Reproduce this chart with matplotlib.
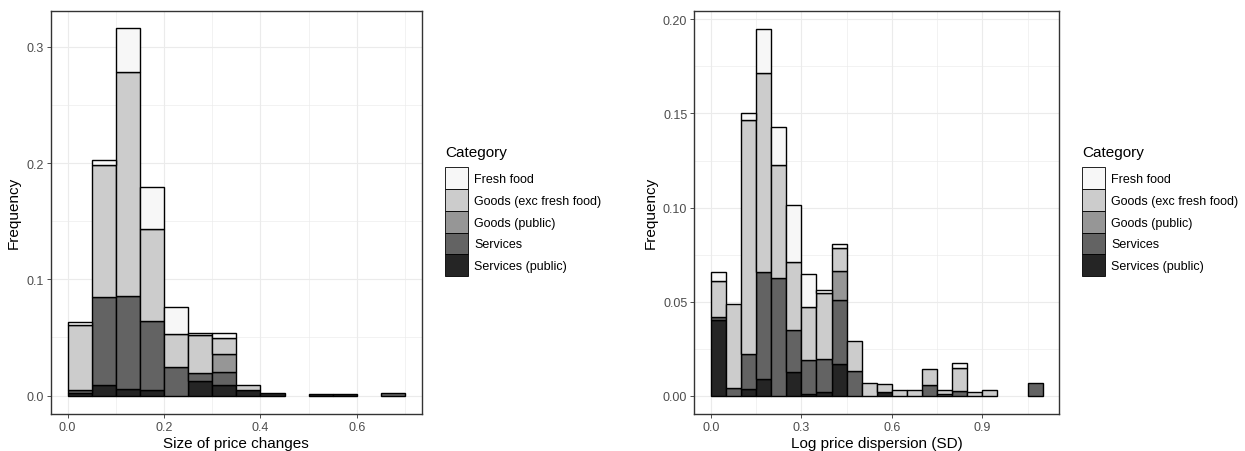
import numpy as np
import matplotlib
matplotlib.use("Agg")
import matplotlib.pyplot as plt
from matplotlib.patches import Patch

plt.rcParams['font.family'] = ['Liberation Sans', 'DejaVu Sans']

categories = ["Fresh food", "Goods (exc fresh food)", "Goods (public)",
              "Services", "Services (public)"]
greys = ["#F7F7F7", "#CCCCCC", "#969696", "#636363", "#252525"]

bin_width = 0.05

# left panel: size of price changes, bins of 0.05 starting at 0
left_edges = np.arange(14) * bin_width
left_sp = [0.0026, 0.009, 0.0057, 0.005, 0, 0.0126, 0.009, 0.005, 0.0023, 0, 0.0017, 0.001, 0, 0]
left_s = [0.0024, 0.076, 0.080, 0.059, 0.0246, 0.0068, 0.011, 0, 0, 0, 0, 0, 0, 0.0026]
left_gp = [0, 0, 0, 0, 0, 0, 0.016, 0, 0, 0, 0, 0, 0, 0]
left_g = [0.0557, 0.113, 0.193, 0.079, 0.0286, 0.0324, 0.0138, 0.004, 0, 0, 0, 0, 0, 0]
left_f = [0.0023, 0.0043, 0.037, 0.036, 0.023, 0.002, 0.0037, 0, 0, 0, 0, 0, 0, 0]

# right panel: log price dispersion, bins of 0.05 starting at 0
right_edges = np.arange(22) * bin_width
right_sp = [0.040, 0, 0.0034, 0.0087, 0, 0.0125, 0.001, 0.0018, 0.0168, 0, 0,
            0.0018, 0, 0, 0, 0, 0, 0, 0, 0, 0, 0]
right_s = [0.0021, 0.004, 0.019, 0.057, 0.0626, 0.0227, 0.018, 0.0176, 0.034, 0.0133, 0,
           0, 0, 0, 0.0055, 0.001, 0.0025, 0, 0, 0, 0, 0.0069]
right_gp = [0, 0, 0, 0, 0, 0, 0, 0, 0.0157, 0, 0, 0, 0, 0, 0, 0, 0, 0, 0, 0, 0, 0]
right_g = [0.019, 0.0445, 0.124, 0.106, 0.060, 0.036, 0.028, 0.035, 0.012, 0.016, 0.0067,
           0.0044, 0.003, 0.003, 0.0085, 0.002, 0.012, 0.0021, 0.003, 0, 0, 0]
right_f = [0.0046, 0, 0.0038, 0.023, 0.020, 0.030, 0.0175, 0.002, 0.002, 0, 0,
           0, 0, 0, 0, 0, 0.003, 0, 0, 0, 0, 0]

W, H = 1245, 452
fig = plt.figure(figsize=(W / 100, H / 100), dpi=100)


def px_axes(x0, x1, y0, y1):
    return fig.add_axes([x0 / W, 1 - y1 / H, (x1 - x0) / W, (y1 - y0) / H])


def stacked_hist(ax, edges, series):
    # series ordered bottom -> top: services(public), services, goods(public), goods, fresh
    bottom = np.zeros(len(edges))
    order = [4, 3, 2, 1, 0]
    for idx, vals in zip(order, series):
        vals = np.asarray(vals, dtype=float)
        m = vals > 0
        ax.bar(edges[m], vals[m], width=bin_width, bottom=bottom[m], align="edge",
               color=greys[idx], edgecolor="black", linewidth=1.0, zorder=3)
        bottom += vals


def style(ax, xlim, ylim, xticks, yticks, xminor, yminor, xlabel, yfmt):
    ax.set_xlim(*xlim)
    ax.set_ylim(*ylim)
    ax.set_xticks(xticks)
    ax.set_yticks(yticks)
    ax.set_xticks(xminor, minor=True)
    ax.set_yticks(yminor, minor=True)
    ax.set_yticklabels([yfmt.format(v) for v in yticks])
    ax.grid(True, which="major", color="#EBEBEB", linewidth=0.8, zorder=0)
    ax.grid(True, which="minor", color="#EBEBEB", linewidth=0.45, zorder=0)
    ax.tick_params(which="minor", length=0)
    ax.tick_params(which="major", length=3, width=0.6, color="#333333",
                   labelsize=9, labelcolor="#4D4D4D", pad=2)
    for sp in ax.spines.values():
        sp.set_color("#333333")
        sp.set_linewidth(1.0)
    ax.set_axisbelow(True)
    ax.set_xlabel(xlabel, fontsize=11, color="black", labelpad=2)
    ax.set_ylabel("Frequency", fontsize=11, color="black", labelpad=4)


def add_legend(ax, x, y):
    handles = [Patch(facecolor=c, edgecolor="black", linewidth=0.6) for c in greys]
    leg = ax.legend(handles, categories, loc="upper left",
                    bbox_to_anchor=(x / W, 1 - y / H), bbox_transform=fig.transFigure,
                    frameon=False, title="Category", fontsize=9, title_fontsize=11,
                    handlelength=1.8, handleheight=2.3, handletextpad=0.55,
                    labelspacing=0.0, borderpad=0, borderaxespad=0, alignment="left")
    leg._legend_box.sep = 6


ax1 = px_axes(50.7, 422, 11.7, 415)
stacked_hist(ax1, left_edges, [left_sp, left_s, left_gp, left_g, left_f])
style(ax1, (-0.035, 0.735), (-0.0158, 0.331), [0.0, 0.2, 0.4, 0.6], [0.0, 0.1, 0.2, 0.3],
      [0.1, 0.3, 0.5, 0.7], [0.05, 0.15, 0.25], "Size of price changes", "{:.1f}")
add_legend(ax1, 445, 146)

ax2 = px_axes(694.3, 1059.3, 11.7, 415)
stacked_hist(ax2, right_edges, [right_sp, right_s, right_gp, right_g, right_f])
style(ax2, (-0.055, 1.155), (-0.0097, 0.2046), [0.0, 0.3, 0.6, 0.9],
      [0.0, 0.05, 0.10, 0.15, 0.20], [0.15, 0.45, 0.75, 1.05],
      [0.025, 0.075, 0.125, 0.175], "Log price dispersion (SD)", "{:.2f}")
add_legend(ax2, 1082, 146)

fig.savefig("out.png", dpi=100)
